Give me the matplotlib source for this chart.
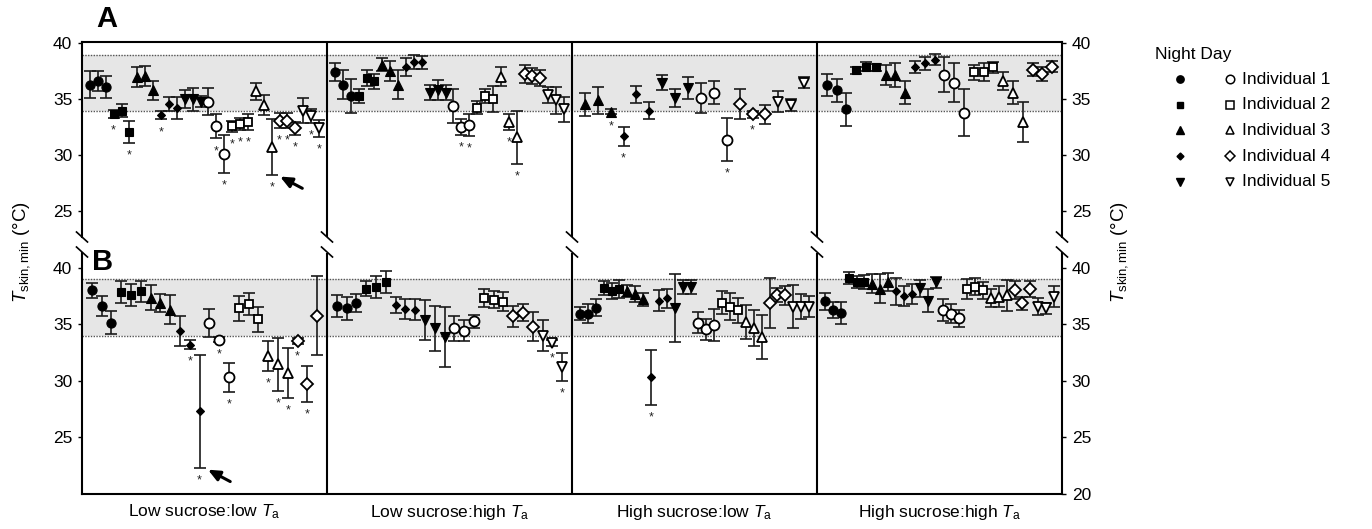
import numpy as np
import matplotlib
matplotlib.use('Agg')
import matplotlib.pyplot as plt
from matplotlib.lines import Line2D

plt.rcParams['font.family'] = ['Liberation Sans', 'DejaVu Sans']
plt.rcParams['mathtext.fontset'] = 'custom'
plt.rcParams['mathtext.rm'] = 'Liberation Sans'
plt.rcParams['mathtext.it'] = 'Liberation Sans:italic'

nan = np.nan

# order inside each group: night ind 1-5, then day ind 1-5, three days each
group_labels = [r'Low sucrose:low $T_{\rm a}$', r'Low sucrose:high $T_{\rm a}$',
                r'High sucrose:low $T_{\rm a}$', r'High sucrose:high $T_{\rm a}$']
individuals = ['Individual 1', 'Individual 2', 'Individual 3', 'Individual 4', 'Individual 5']

# ---- panel A ----
a1_mean = [36.3, 36.6, 36.1, 33.7, 34.0, 32.1, 37.0, 37.1, 35.8, 33.6, 34.6, 34.2, 35.0, 35.0, 34.8,
           34.8, 32.6, 30.1, 32.6, 32.8, 33.0, 35.7, 34.5, 30.75, 33.1, 33.1, 32.4, 34.0, 33.5, 32.4]
a1_sd = [1.2, 0.9, 1.0, 0.35, 0.6, 1.0, 0.9, 0.9, 0.85, 0.4, 0.6, 1.0, 0.8, 1.0, 0.5,
         1.2, 1.1, 1.7, 0.5, 0.5, 0.7, 0.8, 0.9, 2.5, 0.7, 0.7, 0.6, 1.1, 0.6, 0.75]
a1_stars = [3, 5, 9, 16, 17, 18, 19, 20, 23, 24, 25, 26, 28, 29]

a2_mean = [37.4, 36.3, 35.3, 35.3, 36.9, 36.6, 38.1, 37.55, 36.3, 37.9, 38.35, 38.3, 35.6, 35.8, 35.6,
           34.4, 32.5, 32.7, 34.25, 35.3, 35.0, 37.0, 33.0, 31.6, 37.3, 37.1, 36.9, 35.4, 34.9, 34.1]
a2_sd = [0.8, 1.3, 1.5, 0.6, 0.75, 0.7, 0.55, 0.9, 1.3, 0.8, 0.65, 0.55, 0.7, 0.9, 0.7,
         1.5, 0.7, 1.0, 0.6, 0.6, 1.15, 0.85, 0.7, 2.4, 0.8, 0.7, 0.75, 0.7, 1.2, 1.1]
a2_stars = [16, 17, 22, 23]

a3_mean = [nan, nan, nan, nan, nan, nan, 34.55, 34.9, 33.9, 31.7, 35.45, 34.0, 36.5, 35.1, 36.0,
           35.15, 35.6, 31.4, nan, nan, nan, nan, nan, nan, 34.6, 33.65, 33.65, 34.8, 34.5, 36.5]
a3_sd = [nan, nan, nan, nan, nan, nan, 1.0, 1.2, 0.25, 0.85, 0.75, 0.8, 0.7, 0.8, 0.95,
         1.35, 1.05, 1.9, nan, nan, nan, nan, nan, nan, 1.35, 0.35, 0.85, 0.9, 0.5, 0.5]
a3_stars = [8, 9, 17, 25]

a4_mean = [36.3, 35.8, 34.1, 37.6, 37.9, 37.85, 37.15, 37.15, 35.6, 37.9, 38.2, 38.55, nan, nan, nan,
           37.2, 36.5, 33.8, 37.4, 37.4, 37.85, 36.65, 35.6, 33.0, 37.65, 37.25, 37.9, nan, nan, nan]
a4_sd = [1.0, 1.05, 1.45, 0.3, 0.4, 0.3, 0.9, 1.05, 1.0, 0.55, 0.6, 0.5, nan, nan, nan,
         1.55, 1.7, 2.1, 0.65, 0.8, 0.5, 0.8, 1.05, 1.8, 0.6, 0.6, 0.5, nan, nan, nan]
a4_stars = []

# ---- panel B ----
b1_mean = [38.0, 36.6, 35.15, 37.85, 37.6, 37.9, 37.35, 36.9, 36.3, 34.4, 33.2, 27.3, nan, nan, nan,
           35.1, 33.65, 30.3, 36.4, 36.8, 35.45, 32.2, 31.45, 30.7, 33.5, 29.7, 35.75, nan, nan, nan]
b1_sd = [0.65, 0.9, 1.05, 0.95, 1.0, 0.95, 1.1, 0.8, 1.3, 1.35, 0.4, 5.0, nan, nan, nan,
         1.25, 0.2, 1.3, 1.1, 1.0, 1.1, 1.35, 2.35, 2.2, 0.25, 1.6, 3.5, nan, nan, nan]
b1_stars = [10, 11, 16, 17, 21, 22, 23, 24, 25]

b2_mean = [36.6, 36.4, 36.9, 38.15, 38.3, 38.75, nan, nan, nan, 36.7, 36.35, 36.3, 35.4, 34.65, 33.9,
           34.65, 34.45, 35.25, 37.35, 37.15, 37.0, nan, nan, nan, 35.7, 36.0, 34.8, 34.0, 33.35, 31.25]
b2_sd = [0.95, 1.05, 0.8, 0.65, 1.0, 0.95, nan, nan, nan, 0.7, 0.85, 0.95, 1.75, 2.0, 2.65,
         1.1, 0.95, 0.6, 0.8, 0.75, 0.85, nan, nan, nan, 0.9, 0.75, 1.3, 1.35, 0.3, 1.25]
b2_stars = [28, 29]

b3_mean = [35.95, 35.95, 36.45, 38.2, 37.95, 38.1, 37.95, 37.65, 37.2, 30.3, 37.1, 37.3, 36.4, 38.3, 38.3,
           35.15, 34.55, 34.95, 36.9, 36.55, 36.25, 35.2, 34.65, 33.9, 36.9, 37.6, 37.55, 36.55, 36.55, 36.55]
b3_sd = [0.6, 0.8, 0.75, 0.65, 0.7, 0.8, 0.55, 0.7, 0.6, 2.4, 0.95, 0.85, 3.0, 0.65, 0.65,
         0.95, 0.95, 1.4, 1.0, 1.2, 1.1, 1.5, 1.6, 1.95, 2.2, 0.6, 0.85, 1.9, 1.1, 0.95]
b3_stars = [9]

b4_mean = [37.05, 36.25, 36.0, 39.1, 38.75, 38.75, 38.6, 38.15, 38.75, 37.9, 37.5, 37.7, 38.2, 37.1, 38.7,
           36.25, 35.95, 35.55, 38.1, 38.3, 38.0, 37.35, 37.45, 37.55, 38.0, 36.85, 38.1, 36.55, 36.4, 37.45]
b4_sd = [0.75, 0.7, 0.95, 0.5, 0.5, 0.6, 0.85, 1.3, 0.8, 1.2, 0.85, 0.9, 0.75, 1.05, 0.5,
         0.95, 0.8, 0.75, 0.9, 0.75, 0.75, 0.8, 0.95, 1.4, 0.8, 0.6, 0.7, 0.75, 0.45, 0.9]
b4_stars = []

band_low, band_high = 34, 39

markers = ['o', 's', '^', 'D', 'v']
size_night = {'o': 6.6, 's': 5.6, '^': 6.8, 'D': 4.4, 'v': 6.8}
size_day = {'o': 7.2, 's': 6.4, '^': 7.2, 'D': 6.4, 'v': 7.6}

W, H = 1372, 529
fig = plt.figure(figsize=(W / 100, H / 100), dpi=100)
ax_a = fig.add_axes([82 / W, 1 - 237 / H, 980 / W, 195 / H])
ax_b = fig.add_axes([82 / W, 1 - 494 / H, 980 / W, 241 / H])


def draw_group(ax, g, mean, sd, stars, arrow=None):
    mean = np.array(mean)
    sd = np.array(sd)
    ok = ~np.isnan(mean)
    n = ok.sum()
    xs = np.full(len(mean), nan)
    xs[ok] = g + np.arange(1, n + 1) / (n + 1)
    ax.errorbar(xs, mean, yerr=sd, fmt='none', ecolor='#1a1a1a', elinewidth=1.2,
                capsize=4.2, capthick=1.2, zorder=2)
    for k in range(10):
        sl = slice(3 * k, 3 * k + 3)
        m = markers[k % 5]
        if k < 5:
            ax.plot(xs[sl], mean[sl], ls='none', marker=m, ms=size_night[m], mfc='black',
                    mec='black', mew=0.8, zorder=3)
        else:
            ax.plot(xs[sl], mean[sl], ls='none', marker=m, ms=size_day[m], mfc='white',
                    mec='black', mew=1.3, zorder=3)
    for i in stars:
        ax.annotate('*', (xs[i], mean[i] - sd[i]), xytext=(0, -9), textcoords='offset points',
                    ha='center', va='center', fontsize=9, color='#222222')
    if arrow is not None:
        i = arrow
        low = mean[i] - sd[i]
        ax.annotate('', xy=(xs[i] + 0.034, low - 0.15), xytext=(xs[i] + 0.125, low - 1.2),
                    arrowprops=dict(arrowstyle='-|>,head_length=0.5,head_width=0.22',
                                    lw=2.2, color='black', shrinkA=0, shrinkB=0,
                                    mutation_scale=14))


panels = [
    (ax_a, [(a1_mean, a1_sd, a1_stars, 23), (a2_mean, a2_sd, a2_stars, None),
            (a3_mean, a3_sd, a3_stars, None), (a4_mean, a4_sd, a4_stars, None)]),
    (ax_b, [(b1_mean, b1_sd, b1_stars, 11), (b2_mean, b2_sd, b2_stars, None),
            (b3_mean, b3_sd, b3_stars, None), (b4_mean, b4_sd, b4_stars, None)]),
]

for ax, groups in panels:
    for g, (m, s, st, arr) in enumerate(groups):
        draw_group(ax, g, m, s, st, arr)
    ax.axhspan(band_low, band_high, color='#e6e6e6', zorder=0, lw=0)
    for yv in (band_low, band_high):
        ax.axhline(yv, color='#555555', ls=(0, (1, 1)), lw=1.0, zorder=1)
    for k in (1, 2, 3):
        ax.axvline(k, color='black', lw=1.5, zorder=1)
    ax.set_xlim(0, 4)
    ax.set_xticks([])
    for sp in ax.spines.values():
        sp.set_linewidth(1.5)

ax_a.set_ylim(22.7, 40.12)
ax_b.set_ylim(20, 41.3)
ax_a.spines['bottom'].set_visible(False)
ax_b.spines['top'].set_visible(False)
ax_a.set_yticks([25, 30, 35, 40])
ax_b.set_yticks([25, 30, 35, 40])

for ax, ticks in ((ax_a, [25, 30, 35, 40]), (ax_b, [20, 25, 30, 35, 40])):
    tw = ax.twinx()
    tw.set_ylim(ax.get_ylim())
    tw.set_yticks(ticks)
    for sp in tw.spines.values():
        sp.set_visible(False)
    tw.tick_params(axis='y', labelsize=12.5, length=3, width=1, pad=4)
    ax.tick_params(axis='y', labelsize=12.5, length=3, width=1, pad=4)

# axis break marks
for k in range(5):
    xp = 82 + k * 245
    for yc in (237, 252):
        fig.add_artist(Line2D([(xp - 5.5) / W, (xp + 5.5) / W], [1 - (yc - 5) / H, 1 - (yc + 5) / H],
                              color='black', lw=1.2))

fig.text(107 / W, 1 - 19 / H, 'A', fontsize=21, fontweight='bold', ha='center', va='center')
fig.text(103 / W, 1 - 262 / H, 'B', fontsize=21, fontweight='bold', ha='center', va='center')

ylab = r'$T_{\rm skin,min}$ (°C)'
fig.text(22 / W, 1 - 252 / H, ylab, rotation=90, fontsize=13.5, ha='center', va='center')
fig.text(1120 / W, 1 - 252 / H, ylab, rotation=90, fontsize=13.5, ha='center', va='center')

for g, lab in enumerate(group_labels):
    fig.text((82 + 245 * g + 122.5) / W, 1 - 512 / H, lab, fontsize=12.5, ha='center', va='center')

# legend
fig.text(1155 / W, 1 - 55 / H, 'Night Day', fontsize=12.5, ha='left', va='center')
for k, name in enumerate(individuals):
    yy = 1 - (79 + 25.7 * k) / H
    m = markers[k]
    fig.add_artist(Line2D([1180 / W], [yy], marker=m, ms=size_night[m] * 0.8, mfc='black',
                          mec='black', ls='none'))
    fig.add_artist(Line2D([1230 / W], [yy], marker=m, ms=size_day[m] * 0.85, mfc='white',
                          mec='black', mew=1.1, ls='none'))
    fig.text(1242 / W, yy, name, fontsize=12.5, ha='left', va='center')

fig.savefig('out.png', dpi=100)
